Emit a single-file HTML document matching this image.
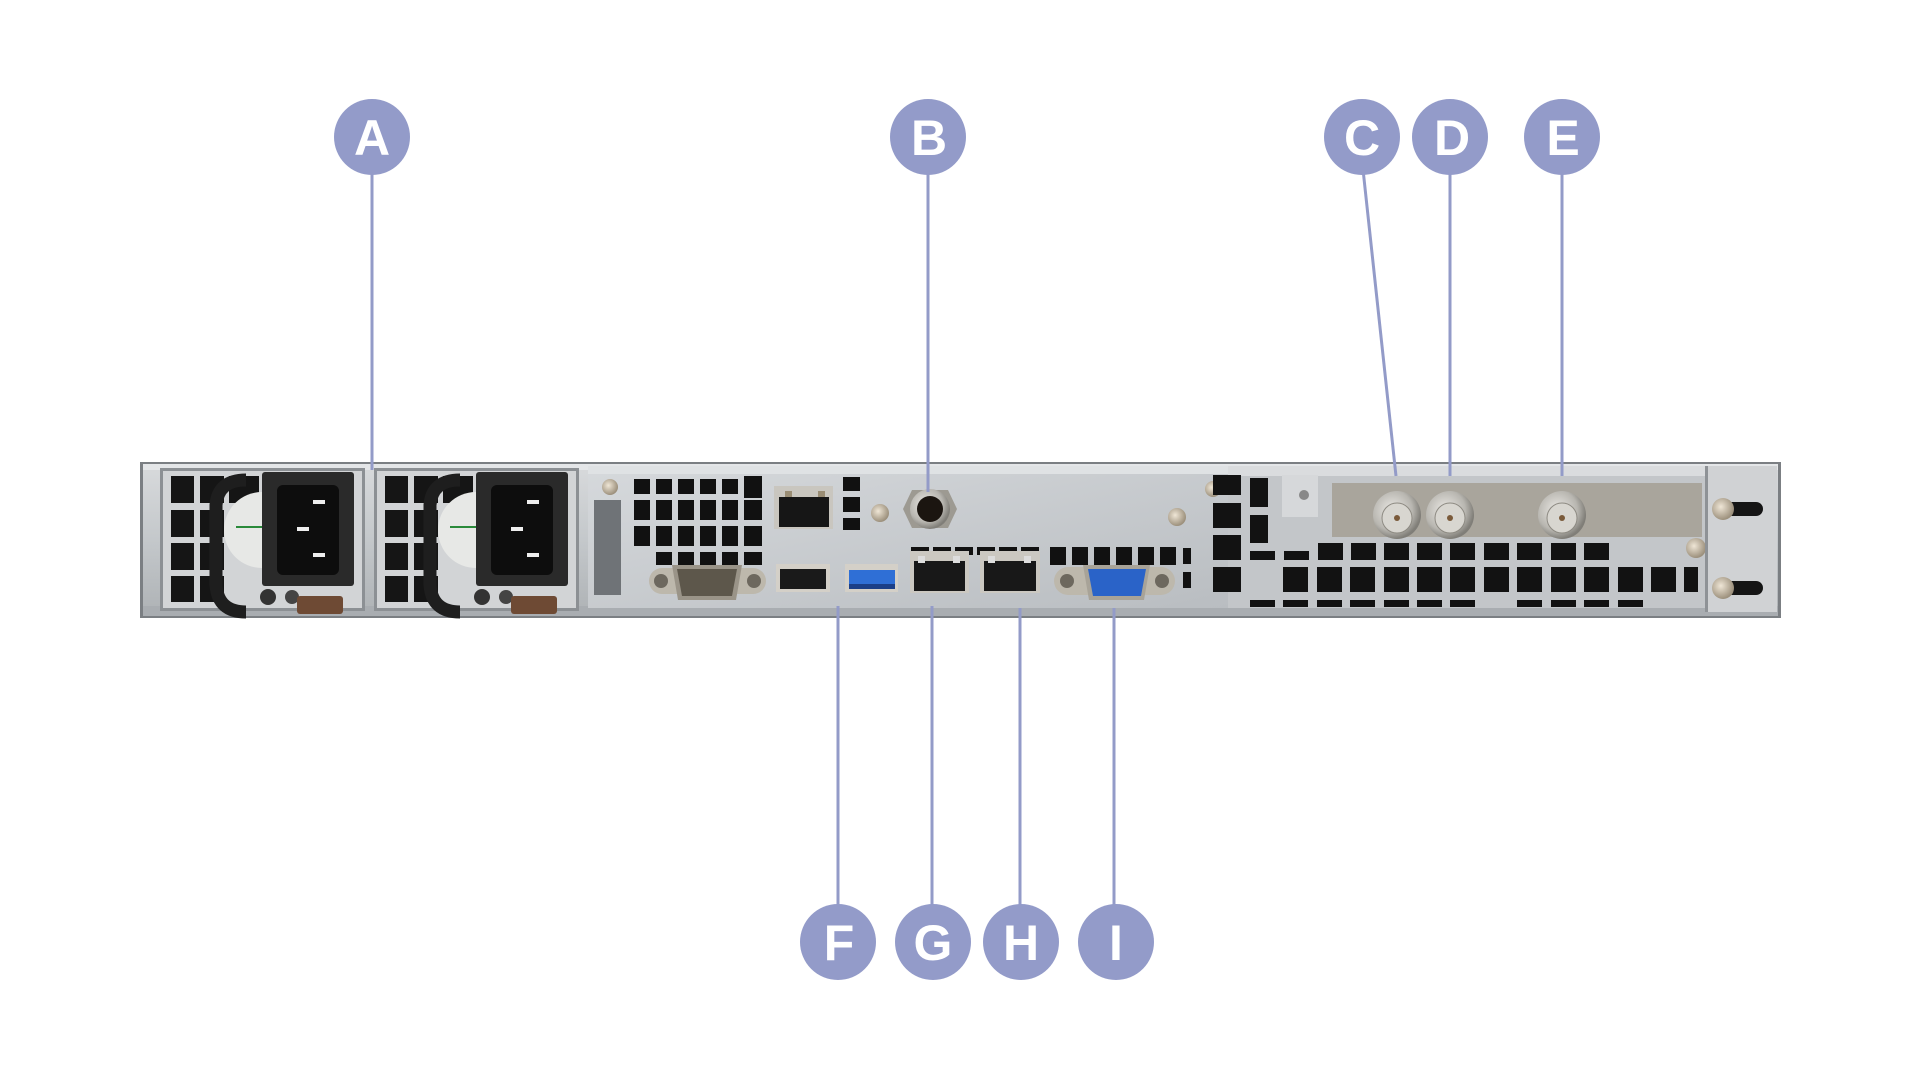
<!DOCTYPE html>
<html><head><meta charset="utf-8"><style>
html,body{margin:0;padding:0;background:#fff;width:1920px;height:1080px;overflow:hidden}
svg{display:block}
text{font-family:"Liberation Sans",sans-serif;font-weight:bold;fill:#fff}
</style></head><body>
<svg width="1920" height="1080" viewBox="0 0 1920 1080" xmlns="http://www.w3.org/2000/svg">
<defs>
<linearGradient id="ch" x1="0" y1="0" x2="0" y2="1"><stop offset="0" stop-color="#d8dadc"/><stop offset="0.5" stop-color="#c4c8cb"/><stop offset="1" stop-color="#aeb2b5"/></linearGradient>
<linearGradient id="pl" x1="0" y1="0" x2="1" y2="1"><stop offset="0" stop-color="#d6d9dc"/><stop offset="1" stop-color="#b9bdc1"/></linearGradient>
<radialGradient id="bnc" cx="0.4" cy="0.4" r="0.6"><stop offset="0" stop-color="#eceae6"/><stop offset="0.7" stop-color="#b8b6b0"/><stop offset="1" stop-color="#807e78"/></radialGradient>
<radialGradient id="scr" cx="0.4" cy="0.4" r="0.6"><stop offset="0" stop-color="#efe6d6"/><stop offset="1" stop-color="#9c907c"/></radialGradient>
</defs>

<!-- chassis -->
<rect x="140" y="462" width="1641" height="156" fill="#7b7f83"/>
<rect x="143" y="464" width="1635" height="152" fill="url(#ch)"/>
<rect x="143" y="464" width="1635" height="6" fill="#e4e6e8"/>
<rect x="143" y="606" width="1635" height="10" fill="#a9adb1"/>

<!-- PSU 1 & 2 -->
<g id="psu">
<rect x="160" y="468" width="205" height="143" fill="#8c9094"/>
<rect x="163" y="471" width="199" height="137" fill="#d2d4d6"/>
<g fill="#151515">
<rect x="171" y="476" width="23" height="27"/><rect x="200" y="476" width="24" height="27"/>
<rect x="171" y="510" width="23" height="27"/><rect x="200" y="510" width="24" height="27"/>
<rect x="171" y="543" width="23" height="27"/><rect x="200" y="543" width="24" height="27"/>
<rect x="171" y="576" width="23" height="26"/><rect x="200" y="576" width="24" height="26"/>
<rect x="229" y="476" width="30" height="27"/>
</g>
<circle cx="262" cy="530" r="38" fill="#e7e8e6"/>
<rect x="236" y="526" width="30" height="2" fill="#2a8a3a"/>
<path d="M246 480 Q218 480 216 505 L216 585 Q218 612 246 612" fill="none" stroke="#1e1e1e" stroke-width="13"/>
<rect x="262" y="472" width="92" height="114" rx="3" fill="#2a2a2a"/>
<rect x="277" y="485" width="62" height="90" rx="6" fill="#0d0d0d"/>
<rect x="313" y="500" width="12" height="4" fill="#eee"/>
<rect x="297" y="527" width="12" height="4" fill="#eee"/>
<rect x="313" y="553" width="12" height="4" fill="#eee"/>
<circle cx="268" cy="597" r="8" fill="#333"/><circle cx="292" cy="597" r="7" fill="#444"/>
<rect x="297" y="596" width="46" height="18" rx="3" fill="#6e4a34"/>
</g>
<use href="#psu" x="214"/>

<!-- IO panel -->
<rect x="588" y="466" width="640" height="142" fill="url(#pl)"/>
<rect x="588" y="466" width="640" height="8" fill="#dfe2e4"/>
<rect x="594" y="500" width="27" height="95" fill="#6f7377"/>
<circle cx="610" cy="487" r="8" fill="url(#scr)"/>
<g fill="#111">
<rect x="634" y="479" width="16" height="15"/><rect x="656" y="479" width="16" height="15"/><rect x="678" y="479" width="16" height="15"/><rect x="700" y="479" width="16" height="15"/><rect x="722" y="479" width="16" height="15"/><rect x="744" y="476" width="18" height="22"/>
<rect x="634" y="500" width="16" height="20"/><rect x="656" y="500" width="16" height="20"/><rect x="678" y="500" width="16" height="20"/><rect x="700" y="500" width="16" height="20"/><rect x="722" y="500" width="16" height="20"/><rect x="744" y="500" width="18" height="20"/>
<rect x="634" y="526" width="16" height="20"/><rect x="656" y="526" width="16" height="20"/><rect x="678" y="526" width="16" height="20"/><rect x="700" y="526" width="16" height="20"/><rect x="722" y="526" width="16" height="20"/><rect x="744" y="526" width="18" height="20"/>
<rect x="656" y="552" width="16" height="13"/><rect x="678" y="552" width="16" height="13"/><rect x="700" y="552" width="16" height="13"/><rect x="722" y="552" width="16" height="13"/><rect x="744" y="552" width="18" height="13"/>
<rect x="843" y="477" width="17" height="14"/><rect x="843" y="497" width="17" height="15"/><rect x="843" y="518" width="17" height="12"/>
<rect x="911" y="547" width="18" height="8"/><rect x="933" y="547" width="18" height="8"/><rect x="955" y="547" width="18" height="8"/><rect x="977" y="547" width="18" height="8"/><rect x="999" y="547" width="18" height="8"/><rect x="1021" y="547" width="18" height="8"/>
<rect x="1050" y="547" width="16" height="18"/><rect x="1072" y="547" width="16" height="18"/><rect x="1094" y="547" width="16" height="18"/><rect x="1116" y="547" width="16" height="18"/><rect x="1138" y="547" width="16" height="18"/><rect x="1160" y="547" width="16" height="18"/>
<rect x="1183" y="548" width="8" height="16"/><rect x="1183" y="572" width="8" height="16"/>
</g>
<!-- top RJ45 -->
<rect x="774" y="486" width="59" height="43" fill="#c9c6bf"/><rect x="779" y="497" width="50" height="30" fill="#161616"/><rect x="785" y="491" width="7" height="6" fill="#9a8d74"/><rect x="818" y="491" width="7" height="6" fill="#9a8d74"/>
<circle cx="880" cy="513" r="9" fill="url(#scr)"/>
<!-- jack -->
<polygon points="912,490 948,490 957,509 948,528 912,528 903,509" fill="#9d9a92"/>
<circle cx="930" cy="509" r="20" fill="url(#bnc)"/><circle cx="930" cy="509" r="13" fill="#1b1510"/>
<!-- serial -->
<rect x="649" y="568" width="117" height="26" rx="13" fill="#bdb8ac"/>
<circle cx="661" cy="581" r="7" fill="#6d685e"/><circle cx="754" cy="581" r="7" fill="#6d685e"/>
<path d="M672 565 L742 565 L736 600 L678 600 Z" fill="#9a9488"/>
<path d="M677 569 L737 569 L732 596 L682 596 Z" fill="#5d574b"/>
<!-- USB -->
<rect x="776" y="564" width="54" height="28" fill="#d4d0c8"/><rect x="780" y="569" width="46" height="20" fill="#1a1a1a"/>
<rect x="845" y="564" width="53" height="28" fill="#d4d0c8"/><rect x="849" y="570" width="46" height="14" fill="#2f6fd6"/><rect x="849" y="584" width="46" height="5" fill="#1b3f88"/>
<!-- RJ45 G H -->
<rect x="910" y="551" width="59" height="42" fill="#cbc8c1"/><rect x="914" y="561" width="51" height="30" fill="#181818"/><rect x="918" y="556" width="7" height="7" fill="#ddd"/><rect x="953" y="556" width="7" height="7" fill="#ddd"/>
<rect x="980" y="551" width="60" height="42" fill="#cbc8c1"/><rect x="984" y="561" width="52" height="30" fill="#181818"/><rect x="988" y="556" width="7" height="7" fill="#ddd"/><rect x="1024" y="556" width="7" height="7" fill="#ddd"/>
<!-- VGA -->
<rect x="1054" y="567" width="121" height="28" rx="14" fill="#bdb8ac"/>
<circle cx="1067" cy="581" r="7" fill="#6d685e"/><circle cx="1162" cy="581" r="7" fill="#6d685e"/>
<path d="M1083 565 L1150 565 L1144 600 L1089 600 Z" fill="#a8a398"/>
<path d="M1088 569 L1146 569 L1141 596 L1093 596 Z" fill="#2a63c8"/>
<circle cx="1177" cy="517" r="9" fill="url(#scr)"/>

<!-- right section -->
<rect x="1228" y="466" width="478" height="142" fill="#c3c6c9"/>
<rect x="1228" y="466" width="478" height="10" fill="#dadcde"/>
<circle cx="1213" cy="489" r="8" fill="url(#scr)"/>
<g fill="#121212">
<rect x="1213" y="475" width="28" height="20"/><rect x="1213" y="503" width="28" height="25"/><rect x="1213" y="535" width="28" height="25"/><rect x="1213" y="567" width="28" height="25"/>
<rect x="1250" y="478" width="18" height="29"/><rect x="1250" y="515" width="18" height="28"/>
<rect x="1250" y="551" width="25" height="9"/><rect x="1284" y="551" width="25" height="9"/>
<rect x="1318" y="543" width="25" height="17"/><rect x="1351" y="543" width="25" height="17"/><rect x="1384" y="543" width="25" height="17"/><rect x="1417" y="543" width="25" height="17"/><rect x="1450" y="543" width="25" height="17"/><rect x="1484" y="543" width="25" height="17"/><rect x="1517" y="543" width="25" height="17"/><rect x="1551" y="543" width="25" height="17"/><rect x="1584" y="543" width="25" height="17"/>
<rect x="1283" y="567" width="25" height="25"/><rect x="1317" y="567" width="25" height="25"/><rect x="1350" y="567" width="25" height="25"/><rect x="1384" y="567" width="25" height="25"/><rect x="1417" y="567" width="25" height="25"/><rect x="1450" y="567" width="25" height="25"/><rect x="1484" y="567" width="25" height="25"/><rect x="1517" y="567" width="25" height="25"/><rect x="1551" y="567" width="25" height="25"/><rect x="1584" y="567" width="25" height="25"/><rect x="1618" y="567" width="25" height="25"/><rect x="1651" y="567" width="25" height="25"/><rect x="1684" y="567" width="14" height="25"/>
<rect x="1250" y="600" width="25" height="7"/><rect x="1283" y="600" width="25" height="7"/><rect x="1317" y="600" width="25" height="7"/><rect x="1350" y="600" width="25" height="7"/><rect x="1384" y="600" width="25" height="7"/><rect x="1417" y="600" width="25" height="7"/><rect x="1450" y="600" width="25" height="7"/><rect x="1517" y="600" width="25" height="7"/><rect x="1551" y="600" width="25" height="7"/><rect x="1584" y="600" width="25" height="7"/><rect x="1618" y="600" width="25" height="7"/>
</g>
<rect x="1282" y="475" width="36" height="42" fill="#d6d8da"/><circle cx="1304" cy="495" r="5" fill="#888"/>
<!-- PCI bracket -->
<rect x="1332" y="483" width="370" height="54" fill="#a9a59c"/>
<g>
<circle cx="1397" cy="515" r="24" fill="url(#bnc)"/><circle cx="1397" cy="518" r="15" fill="#d8d6d0" stroke="#8d8a82"/><circle cx="1397" cy="518" r="3" fill="#7a5a3a"/>
<circle cx="1450" cy="515" r="24" fill="url(#bnc)"/><circle cx="1450" cy="518" r="15" fill="#d8d6d0" stroke="#8d8a82"/><circle cx="1450" cy="518" r="3" fill="#7a5a3a"/>
<circle cx="1562" cy="515" r="24" fill="url(#bnc)"/><circle cx="1562" cy="518" r="15" fill="#d8d6d0" stroke="#8d8a82"/><circle cx="1562" cy="518" r="3" fill="#7a5a3a"/>
</g>
<circle cx="1696" cy="548" r="10" fill="url(#scr)"/>
<!-- ear -->
<rect x="1707" y="466" width="70" height="146" fill="#d0d2d4"/>
<rect x="1705" y="466" width="3" height="146" fill="#8e9296"/>
<rect x="1725" y="502" width="38" height="14" rx="7" fill="#151515"/><circle cx="1723" cy="509" r="11" fill="url(#scr)"/>
<rect x="1725" y="581" width="38" height="14" rx="7" fill="#151515"/><circle cx="1723" cy="588" r="11" fill="url(#scr)"/>

<!-- connectors -->
<g stroke="#939bc8" stroke-width="3" fill="none">
<line x1="372" y1="160" x2="372" y2="470"/>
<line x1="928" y1="160" x2="928" y2="492"/>
<line x1="1362" y1="160" x2="1396" y2="476"/>
<line x1="1450" y1="160" x2="1450" y2="476"/>
<line x1="1562" y1="160" x2="1562" y2="476"/>
<line x1="838" y1="606" x2="838" y2="920"/>
<line x1="932" y1="606" x2="932" y2="920"/>
<line x1="1020" y1="608" x2="1020" y2="920"/>
<line x1="1114" y1="608" x2="1114" y2="920"/>
</g>
<g fill="#939bc9">
<circle cx="372" cy="137" r="38"/><circle cx="928" cy="137" r="38"/><circle cx="1362" cy="137" r="38"/><circle cx="1450" cy="137" r="38"/><circle cx="1562" cy="137" r="38"/>
<circle cx="838" cy="942" r="38"/><circle cx="933" cy="942" r="38"/><circle cx="1021" cy="942" r="38"/><circle cx="1116" cy="942" r="38"/>
</g>
<g font-size="50" text-anchor="middle">
<text x="372" y="155">A</text><text x="929" y="155">B</text><text x="1362" y="155">C</text><text x="1452" y="155">D</text><text x="1563" y="155">E</text>
<text x="839" y="960">F</text><text x="933" y="960">G</text><text x="1021" y="960">H</text><text x="1116" y="960">I</text>
</g>
</svg>
</body></html>
